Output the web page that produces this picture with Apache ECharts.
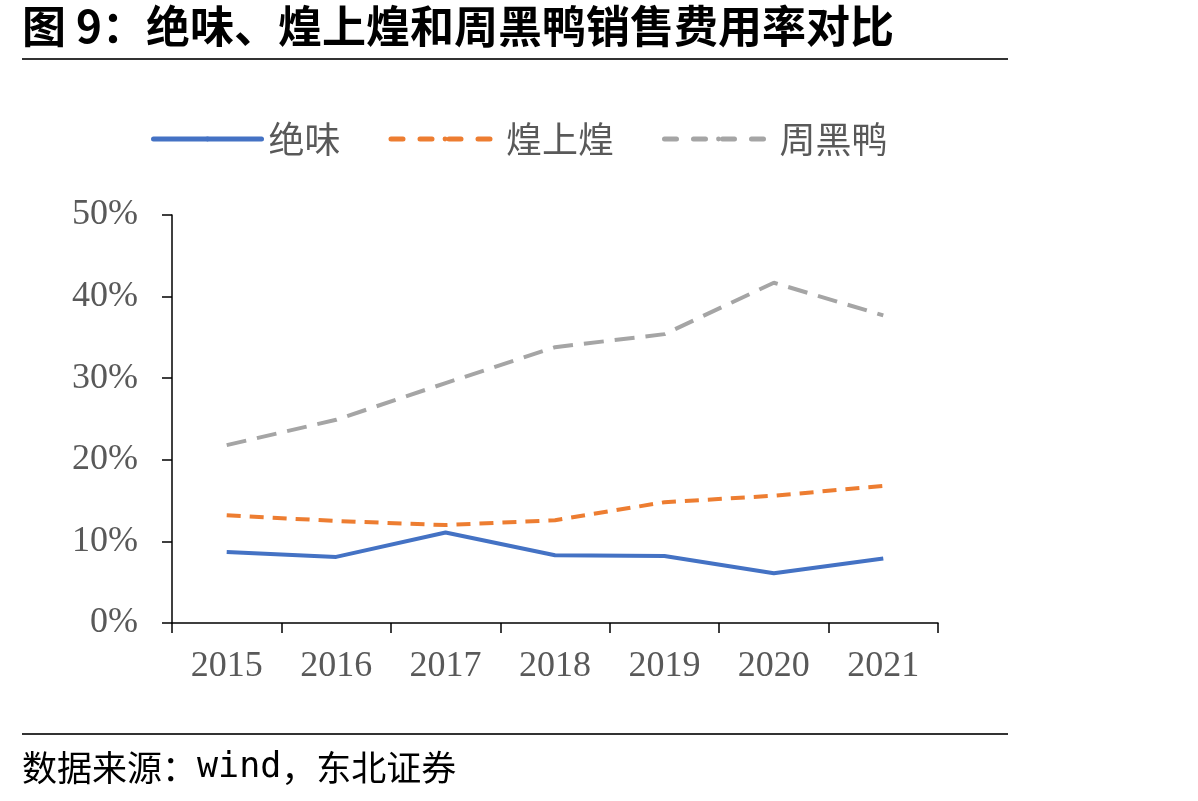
<!DOCTYPE html>
<html>
<head>
<meta charset="utf-8">
<script src="https://cdn.jsdelivr.net/npm/echarts@6/dist/echarts.min.js"></script>
<style>
  html, body { margin: 0; padding: 0; background: #fff; }
  #chart { width: 1198px; height: 801px; }
</style>
</head>
<body>
<div id="chart"></div>
<script>
// 年份
const years = ['2015', '2016', '2017', '2018', '2019', '2020', '2021']
// 销售费用率 (%)
const juewei = [8.7, 8.1, 11.1, 8.3, 8.2, 6.1, 7.9]
const huangshanghuang = [13.2, 12.5, 12.0, 12.6, 14.8, 15.6, 16.8]
const zhouheiya = [21.8, 24.9, 29.4, 33.8, 35.4, 41.7, 37.7]
const seriesNames = ['绝味', '煌上煌', '周黑鸭']

const chart = echarts.init(document.getElementById('chart'))
const labelColor = '#595959'
const serif = '"Liberation Serif", "Times New Roman", serif'

const option = {
  animation: false,
  backgroundColor: '#fff',
  color: ['#4472C4', '#ED7D31', '#A5A5A5'],
  graphic: [
    {
      type: 'text', left: 22, top: 4,
      style: { text: '图 9：绝味、煌上煌和周黑鸭销售费用率对比', font: 'bold 44px "Noto Sans CJK SC"', fill: '#000' }
    },
    { type: 'rect', shape: { x: 22, y: 58, width: 986, height: 2 }, style: { fill: '#333' } },
    { type: 'rect', shape: { x: 22, y: 733, width: 986, height: 2 }, style: { fill: '#333' } },
    {
      type: 'text', left: 22, top: 750,
      style: {
        text: '数据来源：{m|wind}，东北证券',
        font: '35px "Noto Sans CJK SC"', fill: '#000',
        rich: { m: { fontFamily: '"DejaVu Sans Mono", monospace', fontSize: 35 } }
      }
    }
  ],
  legend: {
    top: 116,
    left: 146,
    itemWidth: 108,
    itemHeight: 6,
    itemGap: 48,
    textStyle: { fontSize: 36, color: labelColor, fontFamily: '"Noto Sans CJK SC"', padding: [0, 0, 0, 2] },
    lineStyle: { width: 5 },
    data: [
      { name: seriesNames[0], lineStyle: { type: 'solid', cap: 'round' } },
      { name: seriesNames[1], lineStyle: { type: [12, 17], cap: 'round' } },
      { name: seriesNames[2], lineStyle: { type: [12, 17], cap: 'round' } }
    ]
  },
  grid: { left: 172, right: 260, top: 215, bottom: 178, containLabel: false },
  xAxis: {
    type: 'category',
    data: years,
    boundaryGap: true,
    axisLine: { lineStyle: { color: '#000', width: 1.5 } },
    axisTick: { show: true, length: 10, lineStyle: { color: '#000', width: 1.5 } },
    axisLabel: { fontSize: 36, color: labelColor, fontFamily: serif, margin: 26 }
  },
  yAxis: {
    type: 'value',
    min: 0,
    max: 50,
    interval: 10,
    splitLine: { show: false },
    axisLine: { show: true, lineStyle: { color: '#000', width: 1.5 } },
    axisTick: { show: true, length: 10, lineStyle: { color: '#000', width: 1.5 } },
    axisLabel: { fontSize: 36, color: labelColor, fontFamily: serif, margin: 34, formatter: '{value}%' }
  },
  series: [
    {
      name: seriesNames[0], type: 'line', data: juewei, symbol: 'none',
      lineStyle: { width: 4, color: '#4472C4' }
    },
    {
      name: seriesNames[1], type: 'line', data: huangshanghuang, symbol: 'none',
      lineStyle: { width: 4, color: '#ED7D31', type: [14, 9] }
    },
    {
      name: seriesNames[2], type: 'line', data: zhouheiya, symbol: 'none',
      lineStyle: { width: 4, color: '#A5A5A5', type: [20, 11] }
    }
  ]
}

chart.setOption(option)
</script>
</body>
</html>
